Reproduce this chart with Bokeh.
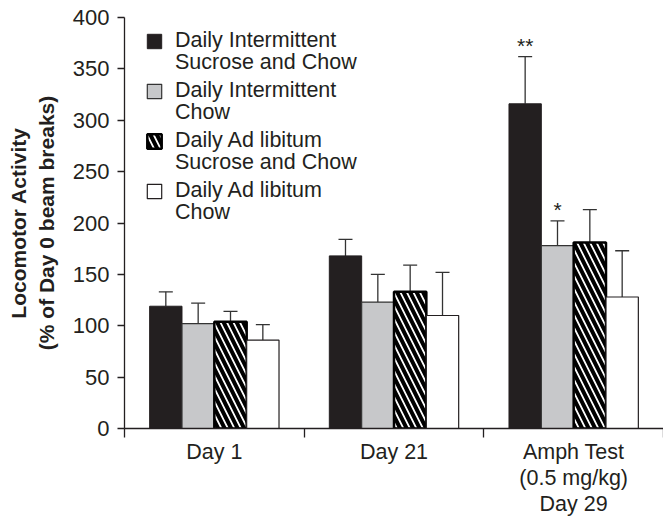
from bokeh.plotting import figure
from bokeh.models import (ColumnDataSource, FixedTicker, Whisker, TeeHead,
                          Legend, LegendItem, Range1d)
from bokeh.embed import file_html
from bokeh.resources import INLINE
from bokeh.core.properties import value

# ---------------- data ----------------
groups = ["Day 1", "Day 21", "Amph Test\n(0.5 mg/kg)\nDay 29"]
series_line1 = ["Daily Intermittent", "Daily Intermittent",
                "Daily Ad libitum", "Daily Ad libitum"]
series_line2 = ["Sucrose and Chow", "Chow", "Sucrose and Chow", "Chow"]
int_sucrose = [119, 168, 316]
int_sucrose_err = [14, 16, 46]
int_chow = [102, 123, 178]
int_chow_err = [20, 27, 24]
adlib_sucrose = [104, 133, 181]
adlib_sucrose_err = [10, 26, 32]
adlib_chow = [86, 110, 128]
adlib_chow_err = [15, 42, 45]
sig_int_sucrose = ["", "", "**"]
sig_int_chow = ["", "", "*"]
sig_adlib_sucrose = ["", "", ""]
sig_adlib_chow = ["", "", ""]
y_ticks = [0, 50, 100, 150, 200, 250, 300, 350, 400]

values = [int_sucrose, int_chow, adlib_sucrose, adlib_chow]
errors = [int_sucrose_err, int_chow_err, adlib_sucrose_err, adlib_chow_err]
sigs = [sig_int_sucrose, sig_int_chow, sig_adlib_sucrose, sig_adlib_chow]

# ---------------- style ----------------
FONT = "Liberation Sans"
INK = "#231f20"
offsets = [-0.27, -0.09, 0.09, 0.27]
bar_w = 0.18
styles = [
    dict(fill_color=INK, line_color=INK, line_width=1),
    dict(fill_color="#c7c8ca", line_color="#333333", line_width=1.2),
    dict(fill_color="white", line_color="black", line_width=2.5,
         hatch_pattern="\\", hatch_color="black", hatch_weight=4,
         hatch_scale=13),
    dict(fill_color="white", line_color=INK, line_width=1.2),
]

p = figure(width=663, height=519, output_backend="svg", toolbar_location=None,
           x_range=Range1d(0, 3), y_range=Range1d(0, 400),
           min_border_left=124, min_border_right=0, min_border_top=17,
           min_border_bottom=91)
p.outline_line_color = None
p.xgrid.visible = False
p.ygrid.visible = False
p.background_fill_color = "white"
p.border_fill_color = "white"

items1, items2 = [], []
for k in range(4):
    xs = [i + 0.5 + offsets[k] for i in range(len(groups))]
    tops = values[k]
    uppers = [v + e for v, e in zip(values[k], errors[k])]
    src = ColumnDataSource(dict(x=xs, top=tops, upper=uppers, sig=sigs[k]))
    r = p.vbar(x="x", top="top", width=bar_w, bottom=0, source=src, **styles[k])
    items1.append(LegendItem(label=series_line1[k], renderers=[r]))
    # invisible stand-in so the second line of each legend label has no swatch
    ghost = p.vbar(x=[], top=[], width=bar_w, fill_alpha=0, line_alpha=0)
    items2.append(LegendItem(label=series_line2[k], renderers=[ghost]))
    w = Whisker(source=src, base="x", lower="top", upper="upper",
                dimension="height", line_color="#333333", line_width=1.3,
                upper_head=TeeHead(size=14, line_color="#333333", line_width=1.3),
                lower_head=None)
    p.add_layout(w)
    p.text(x="x", y="upper", text="sig", source=src, text_align="center",
           text_baseline="bottom", y_offset=0, text_font=value(FONT),
           text_font_size="21px", text_color=INK)

leg_kw = dict(margin=0, padding=0, glyph_width=18, glyph_height=18,
              label_standoff=12, label_height=25, spacing=25,
              border_line_alpha=0, background_fill_alpha=0,
              label_text_font=FONT, label_text_font_size="21.5px",
              label_text_color=INK)
leg1 = Legend(items=items1, location=(21, 411 - 11 - 175), **leg_kw)
leg2 = Legend(items=items2, location=(21, 411 - 11 - 175 - 22), **leg_kw)
p.add_layout(leg1, "center")
p.add_layout(leg2, "center")

# y axis
ya = p.yaxis[0]
ya.ticker = FixedTicker(ticks=y_ticks)
ya.major_tick_out = 7
ya.major_tick_in = 0
ya.minor_tick_out = 0
ya.minor_tick_in = 0
ya.axis_line_color = INK
ya.axis_line_width = 1.3
ya.major_tick_line_color = INK
ya.major_tick_line_width = 1.3
ya.major_label_text_font = FONT
ya.major_label_text_font_size = "22px"
ya.major_label_text_color = INK
ya.major_label_standoff = 8
ya.axis_label = "Locomotor Activity\n(% of Day 0 beam breaks)"
ya.axis_label_text_font = FONT
ya.axis_label_text_font_style = "bold"
ya.axis_label_text_font_size = "21px"
ya.axis_label_text_color = INK
ya.axis_label_standoff = 12

# x axis: names at group centres, ticks at group boundaries (minor ticks)
xa = p.xaxis[0]
centers = [i + 0.5 for i in range(len(groups))]
xa.ticker = FixedTicker(ticks=centers, minor_ticks=[0, 1, 2, 3])
xa.major_label_overrides = {c: g for c, g in zip(centers, groups)}
xa.major_tick_out = 0
xa.major_tick_in = 0
xa.minor_tick_out = 9
xa.minor_tick_in = 0
xa.minor_tick_line_color = INK
xa.minor_tick_line_width = 1.3
xa.axis_line_color = INK
xa.axis_line_width = 1.3
xa.major_label_text_font = FONT
xa.major_label_text_font_size = "21.5px"
xa.major_label_text_line_height = 1.1
xa.major_label_text_color = INK
xa.major_label_standoff = 2

open("out.html", "w").write(file_html(p, INLINE))
